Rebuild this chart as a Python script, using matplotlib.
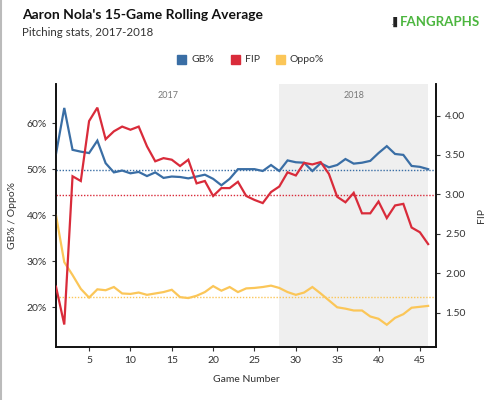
import matplotlib
matplotlib.use("Agg")
import matplotlib.pyplot as plt
from matplotlib.patches import Rectangle
from matplotlib.lines import Line2D

plt.rcParams['font.family'] = ['Lato', 'DejaVu Sans']

games = list(range(1, 47))
gb_pct = [53.3, 63.3, 54.2, 53.8, 53.5, 56.2, 51.3, 49.3, 49.7, 49.1,
          49.4, 48.5, 49.3, 48.1, 48.4, 48.3, 48.0, 48.4, 48.8, 47.9,
          46.5, 47.9, 50.0, 50.0, 50.0, 49.6, 50.9, 49.6, 51.9, 51.5,
          51.4, 49.6, 51.3, 50.4, 50.9, 52.2, 51.2, 51.4, 51.8, 53.5,
          55.0, 53.3, 53.1, 50.7, 50.5, 50.0]
fip = [1.83, 1.35, 3.23, 3.17, 3.93, 4.10, 3.70, 3.80, 3.86, 3.82,
       3.86, 3.61, 3.42, 3.46, 3.44, 3.36, 3.44, 3.14, 3.17, 2.98,
       3.08, 3.08, 3.16, 2.98, 2.93, 2.89, 3.03, 3.10, 3.28, 3.24,
       3.40, 3.38, 3.41, 3.26, 2.97, 2.90, 3.02, 2.76, 2.76, 2.91,
       2.70, 2.86, 2.88, 2.58, 2.52, 2.37]
oppo_pct = [40.0, 29.8, 27.0, 24.0, 22.1, 23.9, 23.7, 24.4, 23.0, 22.9,
            23.2, 22.7, 23.0, 23.3, 23.8, 22.2, 22.0, 22.5, 23.3, 24.6,
            23.6, 24.4, 23.3, 24.1, 24.2, 24.4, 24.7, 24.2, 23.3, 22.7,
            23.2, 24.4, 23.0, 21.5, 20.0, 19.7, 19.3, 19.3, 18.0, 17.5,
            16.2, 17.7, 18.5, 19.9, 20.1, 20.3]
gb_avg = 49.9
fip_avg = 2.99
oppo_avg = 22.2
season_2018_start = 28
season_labels = ["2017", "2018"]
x_ticks = [5, 10, 15, 20, 25, 30, 35, 40, 45]
left_ticks = [20, 30, 40, 50, 60]
right_ticks = [1.5, 2.0, 2.5, 3.0, 3.5, 4.0]

BLUE = "#3a6ea5"
RED = "#d92b3a"
YELLOW = "#fbc658"
SHADE = "#efefef"
TXT = "#333333"

fig = plt.figure(figsize=(4.94, 4.0), dpi=100)
ax = fig.add_axes([56/494, 1-347/400, (436-56)/494, (347-84)/400])
ax2 = ax.twinx()

ax.set_xlim(1, 46.95)
ax.set_ylim(11.37, 68.5)
ax2.set_ylim(1.065, 4.40)

# shaded 2018 region
ax.axvspan(season_2018_start, games[-1], color=SHADE, zorder=0, lw=0)
ax.text((1 + season_2018_start) / 2, 66.0, season_labels[0], ha='center', va='center',
        fontsize=6.5, color='#777777')
ax.text((season_2018_start + games[-1]) / 2, 66.0, season_labels[1], ha='center', va='center',
        fontsize=6.5, color='#777777')

# averages
ax.axhline(gb_avg, color=BLUE, ls=(0, (1, 1.2)), lw=1.0, zorder=1)
ax.axhline(oppo_avg, color=YELLOW, ls=(0, (1, 1.2)), lw=1.0, zorder=1)
ax2.axhline(fip_avg, color=RED, ls=(0, (1, 1.2)), lw=1.0, zorder=1)

ax.plot(games, oppo_pct, color=YELLOW, lw=1.6, zorder=3, solid_joinstyle='miter')
ax.plot(games, gb_pct, color=BLUE, lw=1.6, zorder=3, solid_joinstyle='miter')
ax2.plot(games, fip, color=RED, lw=1.6, zorder=3, solid_joinstyle='miter')

for a in (ax, ax2):
    a.spines['top'].set_visible(False)
    for s in ('left', 'right', 'bottom'):
        a.spines[s].set_color('#111111')
        a.spines[s].set_linewidth(1.2)
ax.patch.set_visible(False)

ax.set_xticks(x_ticks)
ax.set_xticklabels([str(t) for t in x_ticks])
ax.set_yticks(left_ticks)
ax.set_yticklabels([f"{t}%" for t in left_ticks])
ax2.set_yticks(right_ticks)
ax2.set_yticklabels([f"{t:.2f}" for t in right_ticks])

ax.tick_params(axis='both', labelsize=7.5, colors=TXT, length=3, width=0.8, direction='out')
ax2.tick_params(axis='y', labelsize=7.5, colors=TXT, length=3, width=0.8, direction='out')

ax.set_xlabel("Game Number", fontsize=7.5, color=TXT, labelpad=7)
ax.set_ylabel("GB% / Oppo%", fontsize=7.5, color=TXT, labelpad=7)
ax2.set_ylabel("FIP", fontsize=7.5, color=TXT, labelpad=8)

# titles
fig.text(22/494, 1-15/400, "Aaron Nola's 15-Game Rolling Average", fontsize=10,
         fontweight='bold', color='#111111', ha='left', va='center')
fig.text(22/494, 1-32/400, "Pitching stats, 2017-2018", fontsize=8.3,
         color='#333333', ha='left', va='center')

# logo
fig.text(480/494, 1-22/400, "FANGRAPHS", fontsize=9.5, fontweight='bold',
         color='#4cb63f', ha='right', va='center')
fig.text(401/494, 1-22/400, ".\u258C", fontsize=7, fontweight='bold',
         color='#222222', ha='right', va='center')

# legend
items = [("GB%", BLUE, 177), ("FIP", RED, 231), ("Oppo%", YELLOW, 276)]
for label, col, xpx in items:
    fig.patches.append(Rectangle((xpx/494, 1-64/400), 9/494, 9/400,
                                 transform=fig.transFigure, color=col, figure=fig))
    fig.text((xpx + 14)/494, 1-59.5/400, label, fontsize=7.5, color=TXT,
             ha='left', va='center')

# left frame line
fig.add_artist(Line2D([1/494, 1/494], [0, 1], transform=fig.transFigure,
                      color='#bbbbbb', lw=1.5))

fig.savefig("out.png", dpi=100)
